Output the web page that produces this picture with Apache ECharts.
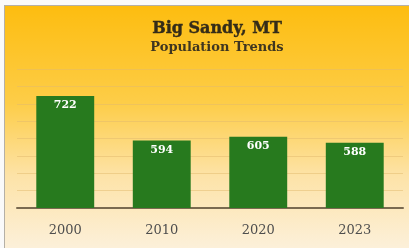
<!DOCTYPE html>
<html>
<head>
<meta charset="utf-8">
<script src="https://cdn.jsdelivr.net/npm/echarts@6/dist/echarts.min.js"></script>
<style>
  html, body { margin: 0; padding: 0; background: #fafafa; }
  #wrap { position: relative; width: 409px; height: 248px; overflow: hidden; }
  #chart { position: absolute; left: 4px; top: 5px; width: 405px; height: 243px;
           border-left: 1px solid #b5b0a6; border-top: 1px solid #b5b0a6; }
</style>
</head>
<body>
<div id="wrap"><div id="chart"></div></div>
<script>
// population by census year
let years = ['2000', '2010', '2020', '2023'];
let population = [722, 594, 605, 588];
let yMin = 400;
let yMax = 800;
let yStep = 50;

let chart = echarts.init(document.getElementById('chart'));

let option = {
    backgroundColor: new echarts.graphic.LinearGradient(0, 0, 0, 1, [
        {offset: 0, color: '#fdbd10'},
        {offset: 0.4, color: '#fdcd48'},
        {offset: 0.7, color: '#fde3a8'},
        {offset: 1, color: '#fcf0da'}
    ]),
    title: {
        text: 'Big Sandy, MT',
        subtext: 'Population Trends',
        left: 207,
        textAlign: 'center',
        top: 10,
        itemGap: 4,
        textStyle: {fontFamily: 'DejaVu Serif', fontWeight: 'bold', fontSize: 16, color: '#342c18', textBorderColor: '#342c18', textBorderWidth: 0.4},
        subtextStyle: {fontFamily: 'DejaVu Serif', fontWeight: 'bold', fontSize: 13, color: '#3f3620'}
    },
    grid: {left: 12, right: 7, top: 63, bottom: 41},
    xAxis: {
        type: 'category',
        data: years,
        axisLine: {lineStyle: {color: '#7a6a50', width: 2}},
        axisTick: {show: false},
        axisLabel: {fontFamily: 'DejaVu Serif', fontSize: 13, color: '#4e4e4e', margin: 16}
    },
    yAxis: {
        type: 'value',
        min: yMin,
        max: yMax,
        interval: yStep,
        axisLabel: {show: false},
        axisLine: {show: false},
        axisTick: {show: false},
        splitLine: {lineStyle: {color: 'rgba(225,185,110,0.5)', width: 1}}
    },
    series: [{
        type: 'bar',
        data: population,
        barWidth: '60%',
        itemStyle: {color: '#277a1e'},
        label: {
            show: true,
            position: 'insideTop',
            distance: 4,
            color: '#fff',
            fontFamily: 'DejaVu Serif',
            fontWeight: 'bold',
            fontSize: 11
        }
    }]
};

chart.setOption(option);
</script>
</body>
</html>
